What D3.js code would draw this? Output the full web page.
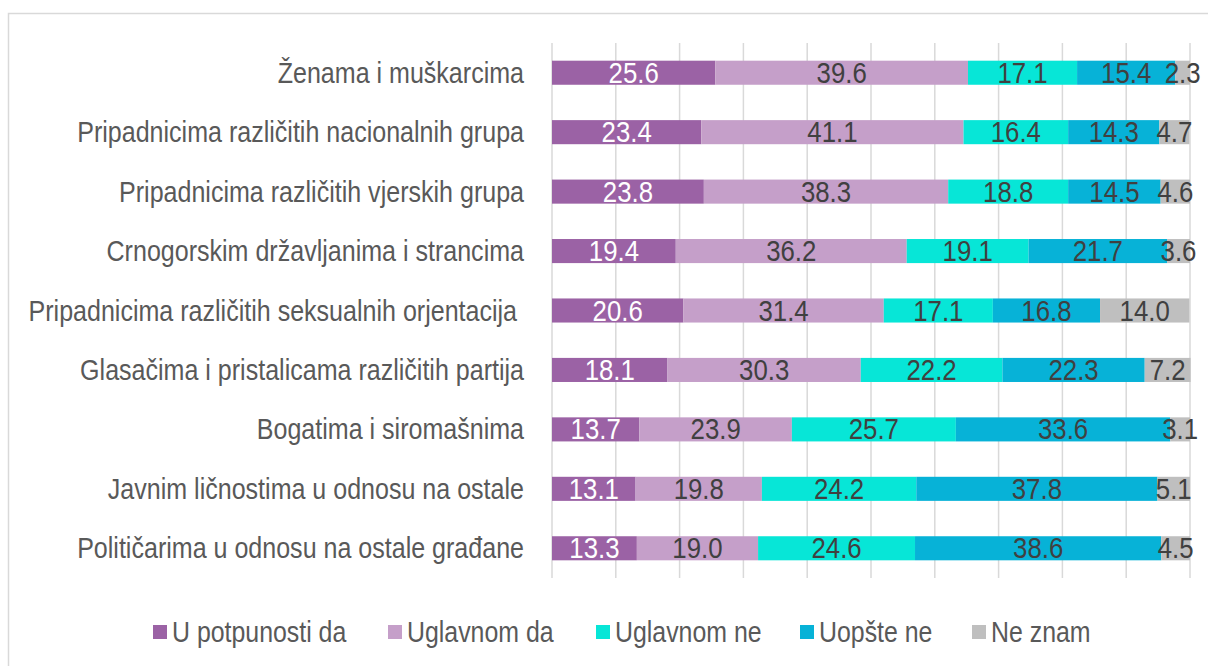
<!DOCTYPE html>
<html><head><meta charset="utf-8">
<script src="https://cdn.jsdelivr.net/npm/d3@7"></script>
<style>body{margin:0;background:#fff}</style>
</head><body>
<svg id="c" width="1208" height="666"></svg>
<script>
const categories = [
  "Ženama i muškarcima",
  "Pripadnicima različitih nacionalnih grupa",
  "Pripadnicima različitih vjerskih grupa",
  "Crnogorskim državljanima i strancima",
  "Pripadnicima različitih seksualnih orjentacija ",
  "Glasačima i pristalicama različitih partija",
  "Bogatima i siromašnima",
  "Javnim ličnostima u odnosu na ostale",
  "Političarima u odnosu na ostale građane"
];
const seriesNames = ["U potpunosti da","Uglavnom da","Uglavnom ne","Uopšte ne","Ne znam"];
const uPotpunostiDa = [25.6,23.4,23.8,19.4,20.6,18.1,13.7,13.1,13.3];
const uglavnomDa    = [39.6,41.1,38.3,36.2,31.4,30.3,23.9,19.8,19.0];
const uglavnomNe    = [17.1,16.4,18.8,19.1,17.1,22.2,25.7,24.2,24.6];
const uopsteNe      = [15.4,14.3,14.5,21.7,16.8,22.3,33.6,37.8,38.6];
const neZnam        = [2.3,4.7,4.6,3.6,14.0,7.2,3.1,5.1,4.5];
const xTicks = [0,10,20,30,40,50,60,70,80,90,100];
const colors = ["#9b62a5","#c59fc9","#07e6d7","#07b2d7","#bfbfbf"];

const values = [uPotpunostiDa, uglavnomDa, uglavnomNe, uopsteNe, neZnam];
const rows = categories.map((c,i)=>{const o={cat:c}; seriesNames.forEach((s,j)=>o[s]=values[j][i]); return o;});
const stack = d3.stack().keys(seriesNames)(rows);

const svg = d3.select("#c");
const FONT = "'Liberation Sans Narrow','Arial Narrow',sans-serif";

svg.append("rect").attr("x",8.5).attr("y",13.5).attr("width",1220).attr("height",700)
  .attr("fill","#fff").attr("stroke","#d9d9d9").attr("stroke-width",1.5);

const x = d3.scaleLinear().domain([0,100]).range([552,1190]);
const y = d3.scaleBand().domain(categories).range([43,578]).paddingInner(0.595).paddingOuter(0.2975);

// gridlines
svg.append("g").selectAll("line").data(xTicks).join("line")
  .attr("x1",d=>x(d)).attr("x2",d=>x(d)).attr("y1",43).attr("y2",578)
  .attr("stroke","#d9d9d9").attr("stroke-width",1.5);

function txt(g, xx, yy, s, anchor, fill, size, sx){
  return g.append("text").attr("transform",`translate(${xx},${yy}) scale(${sx},1)`)
    .attr("text-anchor",anchor).attr("font-family",FONT).attr("font-size",size)
    .attr("fill",fill).text(s);
}

// category labels
const lg = svg.append("g");
categories.forEach(c=>{
  txt(lg, 524, y(c)+y.bandwidth()/2+10, c, "end", "#595959", 30, 0.835).style("white-space","pre");
});

// bars
const bg = svg.append("g");
stack.forEach((layer,j)=>{
  bg.append("g").attr("fill",colors[j]).selectAll("rect").data(layer).join("rect")
    .attr("x",d=>x(d[0])).attr("width",d=>x(d[1])-x(d[0]))
    .attr("y",d=>y(d.data.cat)).attr("height",y.bandwidth());
});
// value labels
const vg = svg.append("g");
stack.forEach((layer,j)=>{
  layer.forEach(d=>{
    const v = d[1]-d[0];
    txt(vg, (x(d[0])+x(d[1]))/2, y(d.data.cat)+y.bandwidth()/2+10, d3.format(".1f")(v), "middle", j===0?"#ffffff":"#404040", 30, 0.86);
  });
});

// legend
const legX = [153,388,596,800,972];
const lgg = svg.append("g");
seriesNames.forEach((s,j)=>{
  lgg.append("rect").attr("x",legX[j]).attr("y",625).attr("width",14).attr("height",14).attr("fill",colors[j]);
  txt(lgg, legX[j]+19, 642, s, "start", "#595959", 30, 0.83);
});
</script>
</body></html>
